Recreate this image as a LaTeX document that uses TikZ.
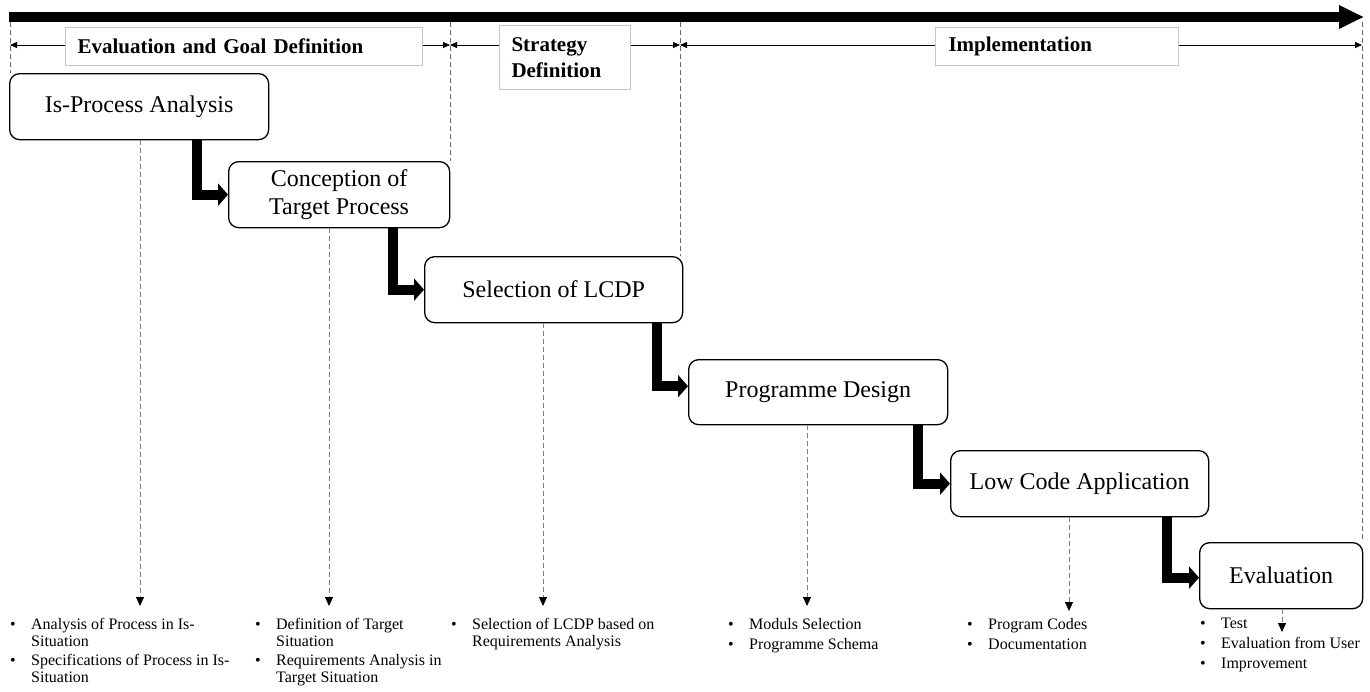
\documentclass[tikz,border=0pt]{standalone}
\usepackage{fontspec}
\setmainfont{Liberation Serif}
\usetikzlibrary{arrows.meta,calc}
\newcommand{\bul}{\makebox[21pt][l]{\textbullet}}
\newcommand{\cont}{\hspace*{21pt}}
\begin{document}
\begin{tikzpicture}[x=1pt,y=-1pt,
 proc/.style={draw, line width=1.3pt, rounded corners=10pt, anchor=north west, inner sep=0pt, align=center, font=\fontsize{24}{28}\selectfont},
 flow/.style={line width=10pt, -{Triangle[length=10pt,width=22pt]}},
 mainarrow/.style={line width=10pt, -{Triangle[length=25pt,width=22pt]}},
 dashv/.style={dash pattern=on 5pt off 3pt, black!60, line width=0.8pt},
 dimline/.style={line width=0.8pt, {Triangle[length=7pt,width=6pt]}-{Triangle[length=7pt,width=6pt]}},
 phase/.style={draw=black!22, fill=white, line width=1pt, anchor=north west, inner ysep=0pt, font=\fontsize{21}{26}\selectfont\bfseries, align=left},
 leader/.style={dash pattern=on 5pt off 3pt, black!50, line width=0.8pt, -{Triangle[length=9pt,width=8pt,black]}},
 blist/.style={anchor=north west, inner sep=0pt, align=left, font=\fontsize{16}{17}\selectfont}]
\useasboundingbox (0,0) rectangle (1370,691);

% main time arrow
\coordinate (m0) at (9,17);
\coordinate (m1) at (1364,17);
\draw[mainarrow] (m0) -- (m1);

% process boxes
\node[proc, minimum width=259pt, minimum height=66pt] (b1) at (9,73) {Is-Process Analysis};
\node[proc, minimum width=221pt, minimum height=66pt] (b2) at (228,161) {Conception of\\Target Process};
\node[proc, minimum width=258pt, minimum height=66pt] (b3) at (424,256) {Selection of LCDP};
\node[proc, minimum width=259pt, minimum height=65pt] (b4) at (688,359) {Programme Design};
\node[proc, minimum width=258pt, minimum height=66pt] (b5) at (950,450) {Low Code Application};
\node[proc, minimum width=163pt, minimum height=66pt] (b6) at (1199,542) {Evaluation};

% phase borders
\coordinate (v0) at (10,22);
\coordinate (v1) at (450,22);
\coordinate (v2) at (680,22);
\coordinate (v3) at (1362,22);
\draw[dashv] (v0) -- (v0 |- b1.north);
\draw[dashv] (v1) -- (v1 |- b2.north);
\draw[dashv] (v2) -- (v2 |- b3.north);
\draw[dashv] (v3) -- (v3 |- b6.north);

% phase dimension lines
\coordinate (d0) at (10,45);
\coordinate (d1) at (450,45);
\coordinate (d2) at (680,45);
\coordinate (d3) at (1362,45);
\draw[dimline] (d0) -- (d1);
\draw[dimline] (d1) -- (d2);
\draw[dimline] (d2) -- (d3);

\node[phase, text width=333pt, inner xsep=12pt, minimum height=38pt] (p1) at (65,27) {Evaluation and Goal Definition};
\node[phase, text width=107pt, inner xsep=12pt, minimum height=64pt] (p2) at (499,25) {Strategy\\Definition};
\node[phase, text width=217pt, inner xsep=13pt, minimum height=38pt] (p3) at (935,27) {Implementation};

% thick flow arrows
\draw[flow] ($(b1.south west)+(188,0)$) |- (b2.west);
\draw[flow] ($(b2.south west)+(165,0)$) |- (b3.west);
\draw[flow] ($(b3.south west)+(233,0)$) |- ([yshift=6pt]b4.west);
\draw[flow] ($(b4.south west)+(230,0)$) |- (b5.west);
\draw[flow] ($(b5.south west)+(217,0)$) |- ([yshift=-2pt]b6.west);

% leaders to outputs
\coordinate (t1) at (140,606);
\coordinate (t2) at (329,606);
\coordinate (t3) at (543,606);
\coordinate (t4) at (807,606);
\coordinate (t5) at (1069,611);
\coordinate (t6) at (1282,632);
\draw[leader] (b1.south -| t1) -- (t1);
\draw[leader] (b2.south -| t2) -- (t2);
\draw[leader] (b3.south -| t3) -- (t3);
\draw[leader] (b4.south -| t4) -- (t4);
\draw[leader] (b5.south -| t5) -- (t5);
\draw[leader] (b6.south -| t6) -- (t6);

% output lists
\node[blist] (l1) at (10,618) {\bul Analysis of Process in Is-\\\cont Situation\\[2pt]\bul Specifications of Process in Is-\\\cont Situation};
\node[blist] (l2) at (255,618) {\bul Definition of Target\\\cont Situation\\[2pt]\bul Requirements Analysis in\\\cont Target Situation};
\node[blist] (l3) at (451,618) {\bul Selection of LCDP based on\\\cont Requirements Analysis};
\node[blist] (l4) at (728,618) {\bul Moduls Selection\\[3pt]\bul Programme Schema};
\node[blist] (l5) at (967,618) {\bul Program Codes\\[3pt]\bul Documentation};
\node[blist] (l6) at (1200,618) {\bul Test\\[3pt]\bul Evaluation from User\\[3pt]\bul Improvement};
\end{tikzpicture}
\end{document}
